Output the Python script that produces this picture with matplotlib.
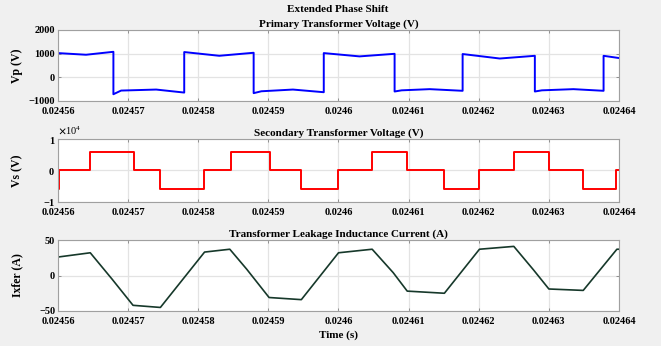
import numpy as np
import matplotlib.pyplot as plt
from matplotlib.ticker import FuncFormatter, ScalarFormatter

# Primary transformer voltage (V) - breakpoints
vp_t = [0.024560, 0.0245640, 0.0245679, 0.0245679, 0.0245690, 0.0245740, 0.0245780,
        0.0245780, 0.0245830, 0.0245879, 0.0245879, 0.0245890, 0.0245935, 0.0245979,
        0.0245979, 0.0246030, 0.0246080, 0.0246080, 0.0246090, 0.0246130, 0.0246177,
        0.0246177, 0.0246230, 0.0246280, 0.0246280, 0.0246290, 0.0246335, 0.0246378,
        0.0246378, 0.0246400]
vp_v = [1020, 950, 1075, -725, -570, -527, -655,
        1064, 906, 1034, -680, -600, -527, -640,
        1020, 880, 990, -610, -560, -510, -580,
        980, 790, 905, -610, -560, -510, -580,
        905, 810]

# Secondary transformer voltage (V) - switching instants and levels
vs_t = [0.024560, 0.0245602, 0.0245646, 0.0245708, 0.0245745, 0.0245808, 0.0245846,
        0.0245903, 0.0245947, 0.0246000, 0.0246048, 0.0246098, 0.0246151, 0.0246201,
        0.0246250, 0.0246300, 0.0246349, 0.0246396, 0.0246400]
vs_v = [-6000, 0, 6000, 0, -6000, 0, 6000,
        0, -6000, 0, 6000, 0, -6000, 0,
        6000, 0, -6000, 0, 0]

# Transformer leakage inductance current (A)
ix_t = [0.024560, 0.0245646, 0.0245677, 0.0245707, 0.0245746, 0.0245809, 0.0245845,
        0.0245869, 0.0245901, 0.0245947, 0.0246000, 0.0246048, 0.0246078, 0.0246098,
        0.0246151, 0.0246201, 0.0246250, 0.0246278, 0.0246300, 0.0246349, 0.0246397,
        0.0246400]
ix_v = [26, 32, -5, -42, -45, 33, 37,
        9, -31, -34, 32, 37, 4, -22,
        -25, 37, 41, 8, -19, -21, 37,
        37]

xticks = np.arange(0.02456, 0.024641, 0.00001)

plt.rcParams['font.family'] = ['Liberation Serif', 'DejaVu Serif']
plt.rcParams['font.weight'] = 'bold'
plt.rcParams['mathtext.fontset'] = 'stix'

fig = plt.figure(figsize=(6.61, 3.46), dpi=100, facecolor='#f0f0f0')

left, width = 58 / 661, 561 / 661
ax1 = fig.add_axes([left, 1 - 100.7 / 346, width, 70.7 / 346])
ax2 = fig.add_axes([left, 1 - 201.7 / 346, width, 62.7 / 346])
ax3 = fig.add_axes([left, 1 - 311 / 346, width, 71 / 346])

ax1.plot(vp_t, vp_v, color='#0000ff', lw=1.4)
ax2.step(vs_t, vs_v, where='post', color='#ff0000', lw=1.4)
ax3.plot(ix_t, ix_v, color='#16382a', lw=1.2)

ax1.set_ylim(-1000, 2000)
ax1.set_yticks([-1000, 0, 1000, 2000])
ax2.set_ylim(-10000, 10000)
ax2.set_yticks([-10000, 0, 10000])
ax3.set_ylim(-50, 50)
ax3.set_yticks([-50, 0, 50])

sf = ScalarFormatter(useMathText=True)
sf.set_powerlimits((0, 0))
ax2.yaxis.set_major_formatter(sf)
ax2.yaxis.get_offset_text().set_fontsize(7.5)
ax2.yaxis.get_offset_text().set_fontweight('normal')

titles = ['Primary Transformer Voltage (V)', 'Secondary Transformer Voltage (V)',
          'Transformer Leakage Inductance Current (A)']
ylabels = ['Vp (V)', 'Vs (V)', 'Ixfer (A)']

for ax, ttl, yl in zip([ax1, ax2, ax3], titles, ylabels):
    ax.set_xlim(0.02456, 0.02464)
    ax.set_xticks(xticks)
    ax.xaxis.set_major_formatter(FuncFormatter(lambda v, p: f'{round(v, 5):g}'))
    ax.grid(True, color='#e3e3e3', lw=0.9)
    ax.set_axisbelow(True)
    ax.tick_params(direction='in', length=2, width=0.6, color='#808080',
                   labelsize=7.5, top=True, right=True)
    ax.tick_params(axis='x', pad=4.5)
    ax.tick_params(axis='y', pad=2)
    for s in ax.spines.values():
        s.set_color('#a0a0a0')
        s.set_linewidth(0.8)
    ax.set_title(ttl, fontsize=8, fontweight='bold', pad=2)
    ax.set_ylabel(yl, fontsize=8.5, fontweight='bold')
    ax.yaxis.set_label_coords(-0.062, 0.5)

ax3.set_xlabel('Time (s)', fontsize=8, fontweight='bold', labelpad=3)

fig.text(338 / 661, 1 - 9 / 346, 'Extended Phase Shift', ha='center', va='center',
         fontsize=8, fontweight='bold')

fig.savefig('out.png', dpi=100, facecolor=fig.get_facecolor())
